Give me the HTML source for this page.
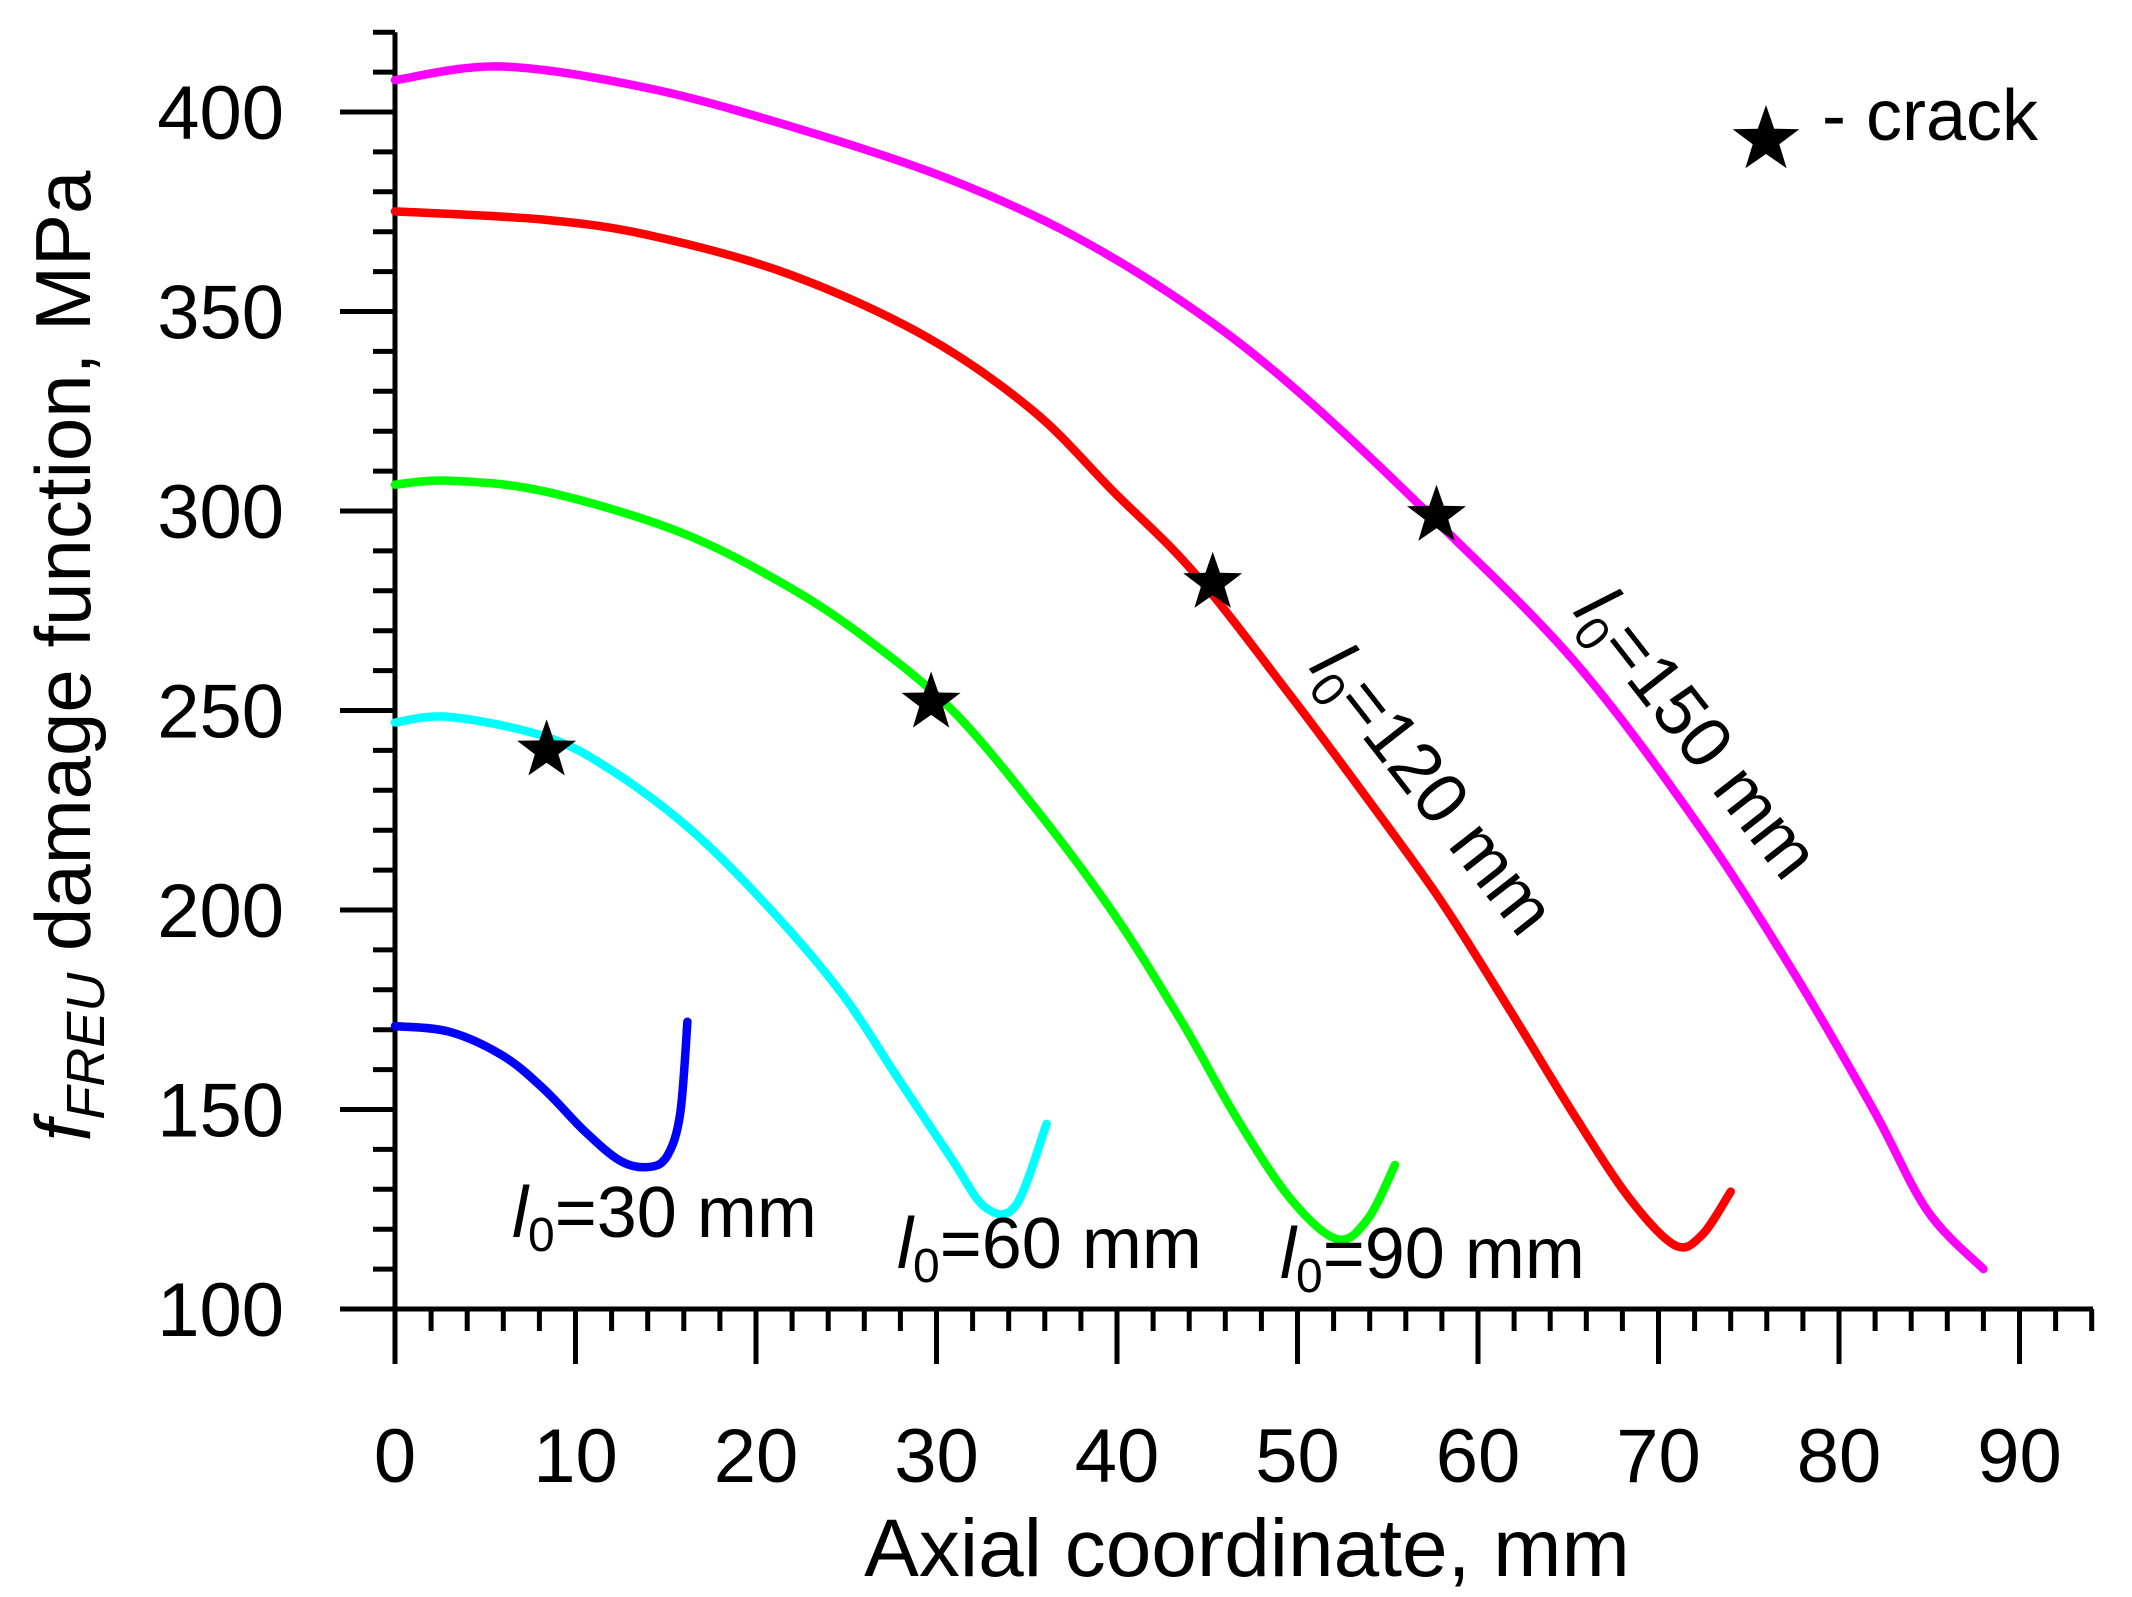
<!DOCTYPE html>
<html><head><meta charset="utf-8">
<style>html,body{margin:0;padding:0;background:#fff}svg{display:block}</style>
</head><body>
<svg id="s" width="2132" height="1597" viewBox="0 0 2132 1597" xmlns="http://www.w3.org/2000/svg" font-family="Liberation Sans, Arial, sans-serif">
<g id="axes" stroke="#000" stroke-width="5" fill="none"></g>
<g id="curves" fill="none" stroke-width="8.5" stroke-linecap="round" stroke-linejoin="round"></g>
<g id="stars" fill="#000"></g>
<text x="1247" y="1576" font-size="82" text-anchor="middle">Axial coordinate, mm</text>
<text transform="translate(90,656) rotate(-90)" font-size="78" text-anchor="middle"><tspan font-style="italic">f</tspan><tspan font-style="italic" font-size="54" dy="14">FREU</tspan><tspan dy="-14"> damage function, MPa</tspan></text>
<text x="1822" y="140" font-size="72">- crack</text>
<g font-size="72">
<text x="512" y="1237"><tspan font-style="italic">l</tspan><tspan font-size="48" dy="14">0</tspan><tspan dy="-14">=30 mm</tspan></text>
<text x="897" y="1268"><tspan font-style="italic">l</tspan><tspan font-size="48" dy="14">0</tspan><tspan dy="-14">=60 mm</tspan></text>
<text x="1280" y="1278"><tspan font-style="italic">l</tspan><tspan font-size="48" dy="14">0</tspan><tspan dy="-14">=90 mm</tspan></text>
<text transform="translate(1308,668) rotate(52)"><tspan font-style="italic">l</tspan><tspan font-size="48" dy="14">0</tspan><tspan dy="-14">=120 mm</tspan></text>
<text transform="translate(1572,612) rotate(52)"><tspan font-style="italic">l</tspan><tspan font-size="48" dy="14">0</tspan><tspan dy="-14">=150 mm</tspan></text>
</g>
</svg>
<script>
const NS="http://www.w3.org/2000/svg";
const X=v=>395+v*18.05, Y=v=>112+(400-v)*3.99;
function el(tag,attrs,parent,text){const e=document.createElementNS(NS,tag);for(const k in attrs)e.setAttribute(k,attrs[k]);if(text!==undefined)e.textContent=text;parent.appendChild(e);return e;}
const ax=document.getElementById('axes'), svg=document.getElementById('s');
const y0=Y(100);
el('line',{x1:X(0),y1:Y(420),x2:X(0),y2:y0+55},ax);
el('line',{x1:X(0)-55,y1:y0,x2:2093,y2:y0},ax);
for(let v=100;v<=420;v+=10){const maj=v%50==0;el('line',{x1:X(0)-(maj?55:22),y1:Y(v),x2:X(0),y2:Y(v)},ax);
 if(maj) el('text',{x:284,y:Y(v)+27,'font-size':76,'text-anchor':'end',fill:'#000',stroke:'none'},svg,String(v));}
for(let m=0;m<=94;m+=2){const maj=m%10==0;el('line',{x1:X(m),y1:y0,x2:X(m),y2:y0+(maj?55:22)},ax);
 if(maj) el('text',{x:X(m),y:1482,'font-size':76,'text-anchor':'middle',fill:'#000',stroke:'none'},svg,String(m));}
function path(pts){pts=pts.map(p=>[X(p[0]),Y(p[1])]);let d="M"+pts[0].join(",");
 for(let i=0;i<pts.length-1;i++){const p0=pts[Math.max(0,i-1)],p1=pts[i],p2=pts[i+1],p3=pts[Math.min(pts.length-1,i+2)];
 const c1=[p1[0]+(p2[0]-p0[0])/6,p1[1]+(p2[1]-p0[1])/6],c2=[p2[0]-(p3[0]-p1[0])/6,p2[1]-(p3[1]-p1[1])/6];
 d+=" C"+c1.join(",")+" "+c2.join(",")+" "+p2.join(",");}return d;}
const cv=document.getElementById('curves');
const series=[
["#ff00ff",[[0,408],[6,411.4],[14.4,405.6],[23.3,394.5],[30.8,383],[37.6,369],[44.4,350],[50.3,328.9],[57.9,296.5],[65.4,262],[72.1,222],[77.4,185],[81.9,150],[84.9,124.6],[88,110]]],
["#ff0000",[[0,375.1],[8.3,373],[14.3,368.9],[21.8,359.4],[29.3,344],[35.3,325.3],[39.8,304.9],[44.3,284.4],[49.6,253.8],[54.1,226.5],[57.9,202.6],[61.7,175.4],[65.4,148.1],[68.4,127.7],[70.9,116],[72.4,118.5],[74,129.4]]],
["#00ff00",[[0,306.6],[3,307.6],[8.3,304.9],[15.8,294.7],[21.8,281],[26.3,267.4],[30.8,250.4],[35.3,226.5],[39.8,199.2],[43.6,171.9],[46.6,148.1],[49.6,127.7],[52.2,117.5],[53.9,122.6],[55.4,136.1]]],
["#00ffff",[[0,247],[3,248.4],[8.3,243.5],[12,235],[16.5,219.7],[21,199.2],[24.8,178.8],[27.8,158.3],[30.8,137.9],[32.7,125.5],[34.4,126],[36.1,146.4]]],
["#0000ff",[[0,170.9],[3,169.5],[6,163.4],[8.3,154.9],[10.5,144.6],[12.5,137.1],[14.1,135.6],[15.1,138.5],[15.8,149],[16.2,172]]]];
for(const [c,p] of series) el('path',{d:path(p),stroke:c},cv);
const st=document.getElementById('stars');
function star(cx,cy,r){let d="";for(let i=0;i<10;i++){const a=-Math.PI/2+i*Math.PI/5,rr=i%2?r*0.4:r;d+=(i?"L":"M")+(cx+rr*Math.cos(a)).toFixed(1)+","+(cy+rr*Math.sin(a)).toFixed(1);}el('path',{d:d+"Z"},st);}
[[57.7,298.8],[45.3,282],[29.7,252],[8.4,240]].forEach(p=>star(X(p[0]),Y(p[1]),31));
star(1766,140,35);
</script>
</body></html>
